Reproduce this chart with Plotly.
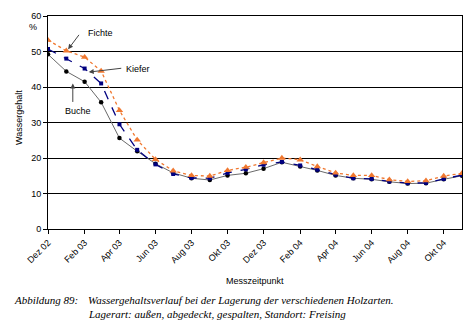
import plotly.graph_objects as go
import pandas as pd

dates = pd.date_range("2002-12-01", "2004-11-01", freq="MS")
buche = [49.2, 44.4, 41.5, 35.7, 25.6, 21.9, 18.4, 15.8, 14.3, 13.8, 15.1, 15.7,
         17.0, 18.8, 17.6, 16.5, 15.1, 14.3, 14.0, 13.3, 12.8, 12.9, 14.0, 15.0]
kiefer = [50.7, 48.0, 45.2, 41.0, 29.5, 22.3, 18.2, 15.5, 14.4, 14.3, 15.8, 16.8,
          18.1, 18.9, 17.9, 16.7, 15.3, 14.3, 14.1, 13.4, 12.9, 13.0, 14.1, 15.2]
fichte = [53.2, 50.2, 48.4, 44.5, 33.4, 25.1, 19.6, 16.4, 15.1, 14.9, 16.5, 17.4,
          18.7, 20.0, 19.5, 17.6, 15.8, 15.1, 15.1, 13.9, 13.4, 13.6, 14.9, 15.7]
tick_dates = pd.date_range("2002-12-01", "2004-10-01", freq="2MS")
tick_labels = ["Dez 02", "Feb 03", "Apr 03", "Jun 03", "Aug 03", "Okt 03",
               "Dez 03", "Feb 04", "Apr 04", "Jun 04", "Aug 04", "Okt 04"]

fig = go.Figure()
fig.add_trace(go.Scatter(x=dates, y=buche, mode="lines+markers", name="Buche",
                         line=dict(color="#6a6a6a", width=1),
                         marker=dict(symbol="circle", size=4.5, color="black")))
fig.add_trace(go.Scatter(x=dates, y=kiefer, mode="lines+markers", name="Kiefer",
                         line=dict(color="#000080", width=1.3, dash="dash"),
                         marker=dict(symbol="square", size=4, color="#000080")))
fig.add_trace(go.Scatter(x=dates, y=fichte, mode="lines+markers", name="Fichte",
                         line=dict(color="#f07830", width=1.3, dash="dot"),
                         marker=dict(symbol="triangle-up", size=6.5, color="#f07830")))

font = dict(family="Liberation Sans, Arial, sans-serif", size=9, color="black")

fig.update_layout(
    width=476, height=332, showlegend=False,
    margin=dict(l=48, r=14, t=16, b=103),
    paper_bgcolor="white", plot_bgcolor="white", font=font,
    xaxis=dict(type="date", range=[dates[0], dates[-1]], tickvals=tick_dates,
               ticktext=tick_labels, tickangle=-45, ticks="outside", ticklen=4,
               tickcolor="black", showgrid=False, showline=True, linecolor="black",
               linewidth=1, mirror=True, zeroline=False, tickfont=font),
    yaxis=dict(range=[0, 60], dtick=10, ticks="outside", ticklen=4, tickcolor="black",
               showgrid=True, gridcolor="black", gridwidth=1, showline=True,
               linecolor="black", linewidth=1, mirror=True, zeroline=False, tickfont=font),
)

def paper_x(px):
    return (px - 48) / 414

def paper_y(py):
    return (229 - py) / 213

anns = [
    dict(text="%", x=paper_x(33), y=paper_y(27)),
    dict(text="Fichte", x=paper_x(86), y=paper_y(33), xanchor="left"),
    dict(text="Kiefer", x=paper_x(124), y=paper_y(69), xanchor="left"),
    dict(text="Buche", x=paper_x(63), y=paper_y(111), xanchor="left"),
    dict(text="Messzeitpunkt", x=paper_x(255), y=paper_y(281)),
    dict(text="Wassergehalt", x=paper_x(19), y=paper_y(117), textangle=-90),
]
for a in anns:
    a.setdefault("xanchor", "center")
    fig.add_annotation(xref="paper", yref="paper", yanchor="middle",
                       showarrow=False, font=font, **a)

# arrows (head position in data coords, tail offset in pixels)
arrows = [
    ("2003-01-04", 50.6, 12, -16),
    ("2003-02-08", 44.2, 34, -4),
    ("2003-01-12", 41.0, 0, 20),
]
for x, y, ax, ay in arrows:
    fig.add_annotation(x=x, y=y, xref="x", yref="y", text="", showarrow=True,
                       ax=ax, ay=ay, arrowhead=2, arrowsize=1, arrowwidth=1,
                       arrowcolor="#444444", standoff=0)

serif = dict(family="Liberation Serif, Times New Roman, serif", size=11, color="black")
fig.add_annotation(xref="paper", yref="paper", x=paper_x(12), y=paper_y(300),
                   xanchor="left", yanchor="middle", showarrow=False,
                   text="<i>Abbildung 89:</i>", font=serif)
fig.add_annotation(xref="paper", yref="paper", x=paper_x(86), y=paper_y(300),
                   xanchor="left", yanchor="middle", showarrow=False,
                   text="<i>Wassergehaltsverlauf bei der Lagerung der verschiedenen Holzarten.</i>",
                   font=serif)
fig.add_annotation(xref="paper", yref="paper", x=paper_x(86), y=paper_y(314),
                   xanchor="left", yanchor="middle", showarrow=False,
                   text="<i>Lagerart: außen, abgedeckt, gespalten, Standort: Freising</i>",
                   font=serif)

fig.write_html("out.html")
